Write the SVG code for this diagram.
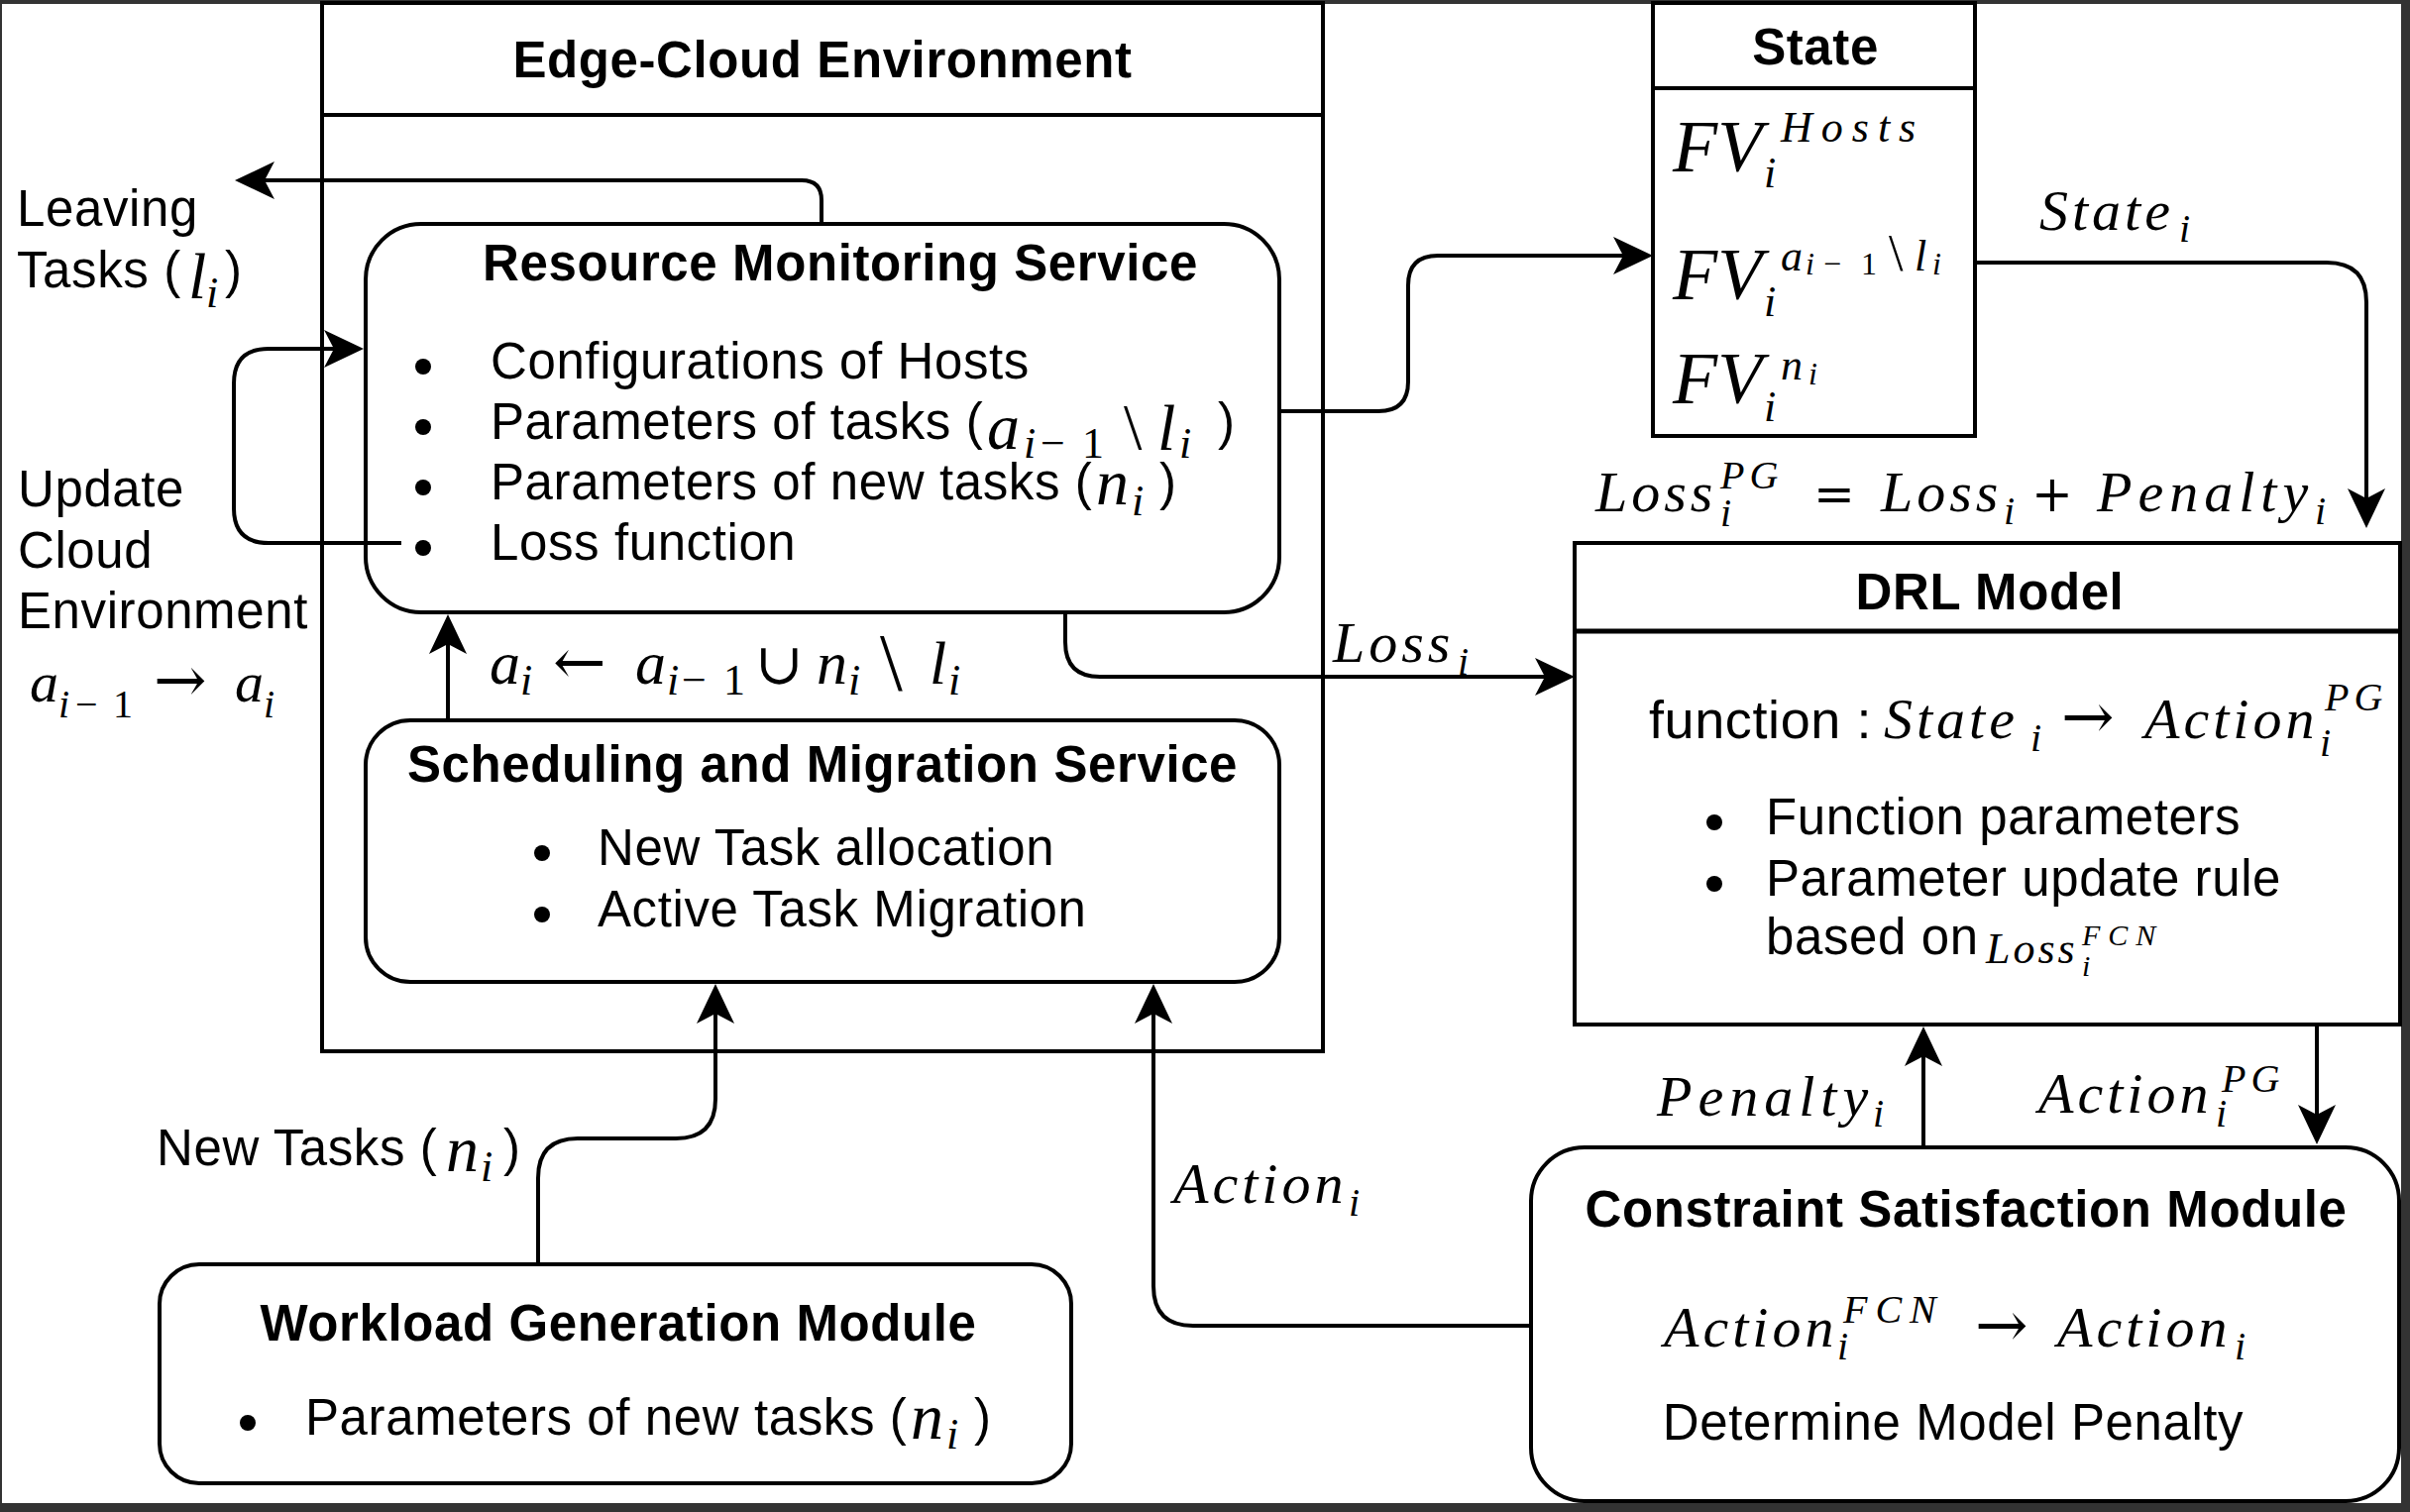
<svg xmlns="http://www.w3.org/2000/svg" width="2432" height="1526" viewBox="0 0 2432 1526">
<defs>
<style>
.box{fill:#fff;stroke:#000;stroke-width:4}
.ln{fill:none;stroke:#000;stroke-width:4}
.c{fill:none;stroke:#000;stroke-width:4;marker-end:url(#ah)}
.t{font-family:"Liberation Sans",Arial,sans-serif;font-size:51px;letter-spacing:0.6px;fill:#000}
.b{font-weight:bold;text-anchor:middle}
.m{font-family:"Liberation Serif","DejaVu Serif",serif;font-style:italic;font-size:58px;letter-spacing:0;fill:#000}
.w{letter-spacing:4px}
.s{font-size:40px}
.sw{letter-spacing:5px}
.u{font-style:normal}
.o{font-family:"DejaVu Serif",serif;font-style:normal;font-size:50px;letter-spacing:0}
.ar{font-family:"DejaVu Serif",serif;font-style:normal;font-size:64px;letter-spacing:0}
.L{font-size:66px}
.S{font-size:44px}
.X{font-size:74px}
</style>
<marker id="ah" markerUnits="userSpaceOnUse" markerWidth="44" markerHeight="44" viewBox="-2 -22 44 44" refX="10" refY="0" orient="auto">
<path d="M40,0 L0,-19 L10,0 L0,19 Z" fill="#000"/>
</marker>
</defs>
<rect x="0" y="0" width="2432" height="1526" fill="#333"/>
<rect x="2" y="4" width="2421" height="1513" fill="#fff"/>

<g id="edge-cloud">
<rect class="box" x="325" y="3" width="1010" height="1058"/>
<line class="ln" x1="325" y1="116" x2="1335" y2="116"/>
<text class="t b" x="830" y="78">Edge-Cloud Environment</text>
</g>

<g id="resource-monitoring">
<rect class="box" x="369" y="226" width="922" height="392" rx="56"/>
<text class="t b" x="848" y="283">Resource Monitoring Service</text>
<circle cx="427" cy="370" r="8"/><circle cx="427" cy="431" r="8"/><circle cx="427" cy="492" r="8"/><circle cx="427" cy="553" r="8"/>
<text class="t" x="495" y="382">Configurations of Hosts</text>
<text class="t" x="495" y="443">Parameters of tasks (<tspan class="m L" x="996" y="453">a</tspan><tspan class="m S" x="1033" y="462">i</tspan><tspan class="m S u" x="1050" y="462">−</tspan><tspan class="m S u" x="1092" y="462">1</tspan><tspan class="m u" style="font-size:66px" x="1134" y="453">\</tspan><tspan class="m L" x="1168" y="454">l</tspan><tspan class="m S" x="1190" y="462">i</tspan><tspan x="1229" y="443">)</tspan></text>
<text class="t" x="495" y="504">Parameters of new tasks (<tspan class="m L" x="1106" y="509">n</tspan><tspan class="m S" x="1142" y="520">i</tspan><tspan x="1170" y="504">)</tspan></text>
<text class="t" x="495" y="565">Loss function</text>
</g>

<g id="scheduling-migration">
<rect class="box" x="369" y="727" width="922" height="264" rx="45"/>
<text class="t b" x="830" y="789">Scheduling and Migration Service</text>
<circle cx="547" cy="861" r="8"/><circle cx="547" cy="923" r="8"/>
<text class="t" x="603" y="873">New Task allocation</text>
<text class="t" x="603" y="935">Active Task Migration</text>
</g>

<g id="workload-generation">
<rect class="box" x="161" y="1276" width="920" height="221" rx="40"/>
<text class="t b" x="624" y="1353">Workload Generation Module</text>
<circle cx="250" cy="1436" r="8"/>
<text class="t" x="308" y="1448">Parameters of new tasks (<tspan class="m L" x="919" y="1452">n</tspan><tspan class="m S" x="955" y="1462">i</tspan><tspan x="983" y="1448">)</tspan></text>
</g>

<g id="state">
<rect class="box" x="1668" y="3" width="325" height="437"/>
<line class="ln" x1="1668" y1="89" x2="1993" y2="89"/>
<text class="t b" x="1832" y="65">State</text>
<text class="m X" x="1688" y="173">FV<tspan class="S" x="1780" y="189">i</tspan><tspan class="S" x="1797" y="143" letter-spacing="9">Hosts</tspan></text>
<text class="m X" x="1688" y="302">FV<tspan class="S" x="1780" y="319">i</tspan><tspan class="S" x="1797" y="273">a</tspan><tspan style="font-size:32px" x="1822" y="277">i</tspan><tspan class="u" style="font-size:32px" x="1840" y="277">−</tspan><tspan class="u" style="font-size:32px" x="1878" y="277">1</tspan><tspan class="u" style="font-size:52px" x="1906" y="273">\</tspan><tspan class="S" x="1932" y="273">l</tspan><tspan style="font-size:32px" x="1950" y="277">i</tspan></text>
<text class="m X" x="1688" y="407">FV<tspan class="S" x="1780" y="425">i</tspan><tspan class="S" x="1797" y="383">n</tspan><tspan style="font-size:32px" x="1825" y="388">i</tspan></text>
</g>

<g id="drl-model">
<rect class="box" x="1589" y="548" width="833" height="486"/>
<line class="ln" x1="1589" y1="637" x2="2422" y2="637" style="stroke-width:5"/>
<text class="t b" x="2008" y="615">DRL Model</text>
<text class="t" x="1664" y="745" style="font-size:54px">function :</text>
<text class="m" x="1901" y="745"><tspan class="w">State</tspan><tspan class="s" x="2049" y="758">i</tspan><tspan class="ar" x="2080" y="745">→</tspan><tspan class="w" x="2164" y="745">Action</tspan><tspan class="s" x="2341" y="763">i</tspan><tspan class="s sw" x="2346" y="717">PG</tspan></text>
<circle cx="1730" cy="830" r="8"/><circle cx="1730" cy="892" r="8"/>
<text class="t" x="1782" y="842">Function parameters</text>
<text class="t" x="1782" y="904">Parameter update rule</text>
<text class="t" x="1782" y="963">based on</text>
<text class="m" x="2004" y="972" style="font-size:44px;letter-spacing:3px">Loss<tspan style="font-size:30px;letter-spacing:0" x="2101" y="985">i</tspan><tspan style="font-size:30px;letter-spacing:8px" x="2101" y="954">FCN</tspan></text>
</g>

<g id="constraint-satisfaction">
<rect class="box" x="1545" y="1158" width="876" height="357" rx="54"/>
<text class="t b" x="1984" y="1238">Constraint Satisfaction Module</text>
<text class="m" x="1679" y="1359"><tspan class="w">Action</tspan><tspan class="s" x="1854" y="1372">i</tspan><tspan class="s" x="1860" y="1335" letter-spacing="8">FCN</tspan><tspan class="ar" x="1993" y="1359">→</tspan><tspan class="w" x="2076" y="1359">Action</tspan><tspan class="s" x="2255" y="1372">i</tspan></text>
<text class="t" x="1971" y="1453" text-anchor="middle">Determine Model Penalty</text>
</g>

<g id="connectors">
<path class="c" d="M829,226 V202 Q829,182 809,182 H267"/>
<path class="c" d="M405,548 H271 Q236,548 236,513 V387 Q236,352 271,352 H337"/>
<path class="c" d="M452,727 V650"/>
<path class="c" d="M1291,415 H1391 Q1421,415 1421,385 V288 Q1421,258 1451,258 H1638"/>
<path class="c" d="M1993,265 H2348 Q2388,265 2388,305 V503"/>
<path class="c" d="M1075,617 V648 Q1075,683 1110,683 H1559"/>
<path class="c" d="M543,1276 V1189 Q543,1149 583,1149 H682 Q722,1149 722,1109 V1023"/>
<path class="c" d="M1545,1338 H1204 Q1164,1338 1164,1298 V1023"/>
<path class="c" d="M1941,1158 V1066"/>
<path class="c" d="M2338,1034 V1125"/>
</g>

<g id="labels">
<text class="t" x="17" y="228">Leaving</text>
<text class="t" x="17" y="290">Tasks (<tspan class="m L" x="190" y="301">l</tspan><tspan class="m S" x="208" y="310">i</tspan><tspan x="227" y="290">)</tspan></text>
<text class="t" x="18" y="511">Update</text>
<text class="t" x="18" y="573">Cloud</text>
<text class="t" x="18" y="634">Environment</text>
<text class="m" x="30" y="708">a<tspan class="s" x="59" y="724">i</tspan><tspan class="s u" x="76" y="724">−</tspan><tspan class="s u" x="114" y="724">1</tspan><tspan class="ar" x="155" y="708">→</tspan><tspan x="237" y="708">a</tspan><tspan class="s" x="266" y="724">i</tspan></text>
<text class="m" x="494" y="690" style="font-size:62px">a<tspan class="S" x="525" y="701">i</tspan><tspan class="ar" x="558" y="690">←</tspan><tspan x="641" y="690">a</tspan><tspan class="S" x="673" y="701">i</tspan><tspan class="S u" x="688" y="701">−</tspan><tspan class="S u" x="730" y="701">1</tspan><tspan class="o" style="font-size:58px" x="762" y="690">∪</tspan><tspan x="824" y="690">n</tspan><tspan class="S" x="856" y="701">i</tspan><tspan class="u" style="font-size:82px" x="888" y="696">\</tspan><tspan x="938" y="690">l</tspan><tspan class="S" x="957" y="701">i</tspan></text>
<text class="m" x="1345" y="668"><tspan class="w">Loss</tspan><tspan class="s" x="1471" y="681">i</tspan></text>
<text class="m" x="2058" y="232"><tspan class="w">State</tspan><tspan class="s" x="2199" y="244">i</tspan></text>
<text class="m" x="1610" y="516"><tspan class="w">Loss</tspan><tspan class="s" x="1736" y="531">i</tspan><tspan class="s sw" x="1736" y="493">PG</tspan><tspan class="o" x="1830" y="516">=</tspan><tspan class="w" x="1898" y="516">Loss</tspan><tspan class="s" x="2022" y="529">i</tspan><tspan class="o" x="2050" y="516">+</tspan><tspan x="2116" y="516" letter-spacing="6">Penalty</tspan><tspan class="s" x="2336" y="529">i</tspan></text>
<text class="t" x="158" y="1176">New Tasks (<tspan class="m L" x="450" y="1182">n</tspan><tspan class="m S" x="485" y="1192">i</tspan><tspan x="508" y="1176">)</tspan></text>
<text class="m" x="1184" y="1214"><tspan class="w">Action</tspan><tspan class="s" x="1361" y="1227">i</tspan></text>
<text class="m" x="1672" y="1126"><tspan letter-spacing="6">Penalty</tspan><tspan class="s" x="1890" y="1137">i</tspan></text>
<text class="m" x="2057" y="1123"><tspan class="w">Action</tspan><tspan class="s" x="2236" y="1137">i</tspan><tspan class="s sw" x="2242" y="1102">PG</tspan></text>
</g>
</svg>
